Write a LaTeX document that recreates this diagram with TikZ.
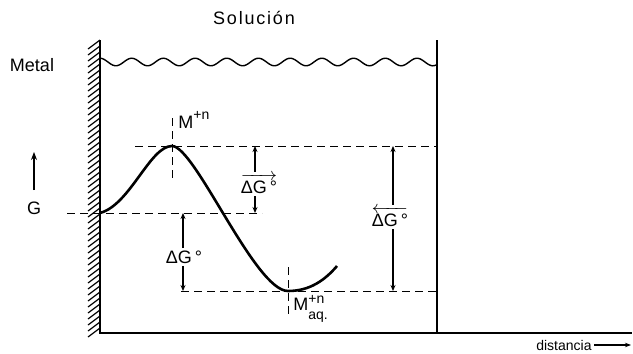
\documentclass[tikz,border=0pt]{standalone}
\usepackage{amsmath}
\usepackage{fontspec}
\setmainfont{Liberation Sans}
\usetikzlibrary{positioning, arrows.meta, calc}

\begin{document}
\begin{tikzpicture}
  [
    x=0.5pt, y=-0.5pt,
    wall/.style={line width=0.8pt},
    hatch/.style={line width=0.6pt},
    energy/.style={line width=1.3pt},
    level/.style={dash pattern=on 4pt off 2.5pt, line width=0.5pt},
    dimend/.style={-{Stealth[length=3pt, width=2.5pt]}, line width=0.6pt},
    lbl/.style={font=\fontsize{9}{11}\selectfont, inner sep=1pt},
    small/.style={font=\fontsize{7}{8}\selectfont, inner sep=1pt}
  ]
    \useasboundingbox (0,0) rectangle (633,354);
    % =========================================================================
    % VESSEL
    % =========================================================================
    \coordinate (lw1) at (100,40);
    \coordinate (lw2) at (100,333);
    \coordinate (rw1) at (437,40);
    \coordinate (rw2) at (437,333);
    \coordinate (bend) at (632,333);
    \draw [wall] (lw1) -- (lw2) -- (bend);
    \draw [wall] (rw1) -- (rw2);
    \foreach \y in {49,55,...,338}
      \draw [hatch] (88,\y) -- (100,\y-9);
    \draw [line width=0.7pt] plot [domain=100:437, samples=160]
      (\x, {62-3.8*cos(11.356*(\x-100))});

    % =========================================================================
    % NODES
    % =========================================================================
    \node [lbl] (sol) at (254,18) {\addfontfeature{LetterSpace=10}Solución};
    \node [lbl] (metal) at (32,65) {Metal};
    \node [lbl] (glbl) at (34,208) {G};
    \coordinate (gbot) at (34,190);
    \coordinate (gtop) at (34,152);

    \coordinate (c0) at (100,213);
    \coordinate (peak) at (172,146);
    \coordinate (vmin) at (288,291);
    \coordinate (c3) at (337,266);

    \node [lbl, anchor=west] (mion) at (176,120) {M\raisebox{0.9ex}{\scriptsize +n}};
    \node [lbl, anchor=west] (maq) at (291,309)
      {M\raisebox{-0.9ex}{\scriptsize\shortstack[l]{+n\\[1pt]aq.}}};

    \node [lbl] (dgf) at (259,184) {$\overrightarrow{\hbox{ΔG\,°}}$};
    \node [lbl] (dgl) at (184,257) {ΔG\,°};
    \node [lbl] (dgr) at (390,217) {$\overleftarrow{\hbox{ΔG\,°}}$};
    \node [small, anchor=east] (dist) at (594,345) {distancia};
    \coordinate (distend) at (631,345);

    \coordinate (dgftop) at (255,146);
    \coordinate (dgfbot) at (255,213);
    \coordinate (dgltop) at (183,213);
    \coordinate (dglbot) at (183,291);
    \coordinate (dgrtop) at (393,146);
    \coordinate (dgrbot) at (393,291);

    % =========================================================================
    % PATHS
    % =========================================================================
    % --- CURVE ---
    \draw [energy] (c0) .. controls (130,205) and (150,146) .. (peak)
      .. controls (195,146) and (255,291) .. (vmin)
      .. controls (310,291) and (325,280) .. (c3);
    % --- LEVELS ---
    \draw [level] (135,146) -- (peak -| rw1);
    \draw [level] (67,213) -- (262,213);
    \draw [level] (181,291) -- (vmin -| rw1);
    \draw [level] (172,118) -- (172,180);
    \draw [level] (288,267) -- (288,318);
    % --- DIMENSIONS ---
    \draw [dimend] (dgf.north -| dgftop) -- (dgftop);
    \draw [dimend] (dgf.south -| dgfbot) -- (dgfbot);
    \draw [dimend] (dgl.north -| dgltop) -- (dgltop);
    \draw [dimend] (dgl.south -| dglbot) -- (dglbot);
    \draw [dimend] (dgr.north -| dgrtop) -- (dgrtop);
    \draw [dimend] (dgr.south -| dgrbot) -- (dgrbot);
    % --- AXES ---
    \draw [-{Stealth[length=4pt]}, line width=0.6pt] (gbot) -- (gtop);
    \draw [-{Stealth[length=3pt]}, line width=0.6pt] (dist.east) -- (distend);

  \end{tikzpicture}
\end{document}
